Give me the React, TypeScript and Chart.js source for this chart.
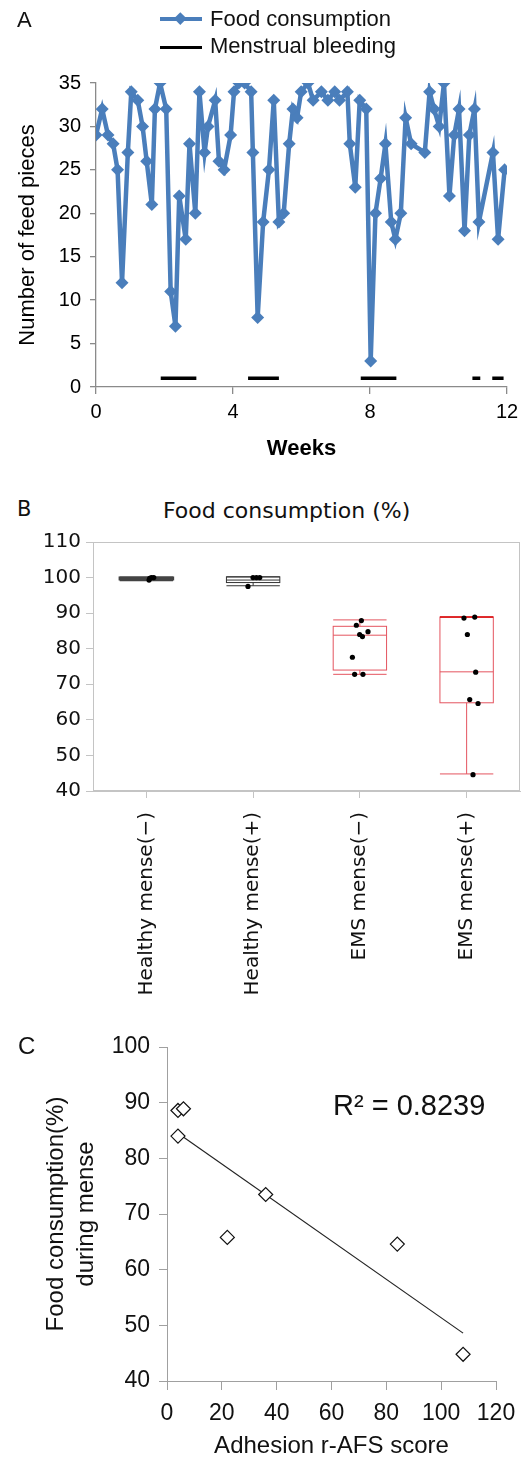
import React, { useEffect, useRef } from 'react';
import { Chart, registerables } from 'chart.js';

Chart.register(...registerables);

const SANS = '"Liberation Sans", Arial, sans-serif';
const VERD = '"DejaVu Sans", Verdana, sans-serif';
const BLUE = '#4A7EBB';
const RED = '#E4545F';

// ---------- Panel A : daily food consumption ----------
const WEEKS = [
  0.0, 0.18, 0.35, 0.5, 0.63, 0.76, 0.93, 1.03, 1.22, 1.36, 1.48, 1.63, 1.72, 1.87, 2.05, 2.18, 2.32, 2.43,
  2.62, 2.73, 2.9, 3.02, 3.17, 3.27, 3.48, 3.59, 3.74, 3.93, 4.03, 4.17, 4.34, 4.53, 4.58, 4.72, 4.88, 5.05,
  5.19, 5.34, 5.48, 5.64, 5.75, 5.87, 5.99, 6.19, 6.34, 6.58, 6.77, 6.97, 7.11, 7.34, 7.41, 7.57, 7.7, 7.89,
  8.02, 8.16, 8.31, 8.45, 8.62, 8.74, 8.9, 9.04, 9.2, 9.6, 9.74, 9.87, 10.02, 10.16, 10.32, 10.46, 10.6, 10.76,
  10.9, 11.05, 11.18, 11.59, 11.74, 11.93,
];
const FEED_PIECES = [
  29, 32, 29, 28, 25, 12, 27, 34, 33, 30, 26, 21, 32, 35, 32, 11, 7, 22,
  17, 28, 20, 34, 27, 30, 33, 26, 25, 29, 34, 35, 35, 34, 27, 8, 19, 25,
  33, 19, 20, 28, 32, 31, 34, 35, 33, 34, 33, 34, 33, 34, 28, 23, 33, 32,
  3, 20, 24, 28, 19, 17, 20, 31, 28, 27, 34, 32, 30, 35, 22, 29, 32, 18,
  29, 32, 19, 27, 17, 25,
];
const BLEED_START = [1.89, 4.44, 7.73, 10.99, 11.57];
const BLEED_END = [2.93, 5.34, 8.77, 11.22, 11.9];
const BLEED_LEVEL = 1;

// ---------- Panel B : box plots ----------
const GROUPS = ['Healthy mense(\u2212)', 'Healthy mense(+)', 'EMS mense(\u2212)', 'EMS mense(+)'];
const BOX_MIN = [99.3, 97.7, 72.8, 44.8];
const BOX_Q1 = [99.5, 98.6, 74.0, 64.8];
const BOX_MEDIAN = [99.8, 99.3, 83.8, 73.5];
const BOX_Q3 = [100.0, 100.2, 86.3, 88.9];
const BOX_MAX = [100.0, 100.2, 88.1, 88.9];
const DOT_POS = [
  0.025, 0.031, 0.047, 0.069,
  0.952, 0.999, 1.031, 1.062,
  2.014, 1.967, 2.076, 1.998, 2.024, 1.93, 1.951, 2.029,
  2.975, 3.076, 3.007, 3.085, 3.029, 3.107, 3.06,
];
const DOT_VALUE = [
  99.3, 99.8, 100, 100,
  97.5, 100, 100, 100,
  87.9, 86.6, 84.8, 84.0, 83.4, 77.6, 72.8, 72.8,
  88.6, 88.9, 84.0, 73.4, 65.7, 64.6, 44.6,
];

// ---------- Panel C : correlation ----------
const AFS_SCORE = [4, 6, 4, 36, 22, 84, 108];
const MENSE_FOOD = [88.6, 88.9, 84.0, 73.5, 65.8, 64.6, 44.8];
const TREND_X = [4, 108];
const TREND_Y = [84.5, 48.6];
const R2_TEXT = 'R\u00B2 = 0.8239';

// styles (not data)
const BOX_HALF = 0.25;
const BOX_STROKE = ['#444444', '#333333', RED, RED];
const BOX_WIDTH = [2.2, 1, 1, 1];
const CAP_STROKE = ['#444444', '#333333', RED, '#D80000'];
const FRAME = '#c4c4c4';
const AXIS_A = '#8a8a8a';
const AXIS_C = '#a0a0a0';

const boxPlugin = {
  id: 'boxes',
  beforeDatasetsDraw(chart: any) {
    const { ctx, chartArea, scales } = chart;
    const x = scales.x;
    const y = scales.y;
    ctx.save();
    ctx.strokeStyle = FRAME;
    ctx.lineWidth = 1;
    ctx.strokeRect(chartArea.left + 0.5, chartArea.top + 0.5, chartArea.right - chartArea.left - 1, chartArea.bottom - chartArea.top - 1);
    GROUPS.forEach((_, i) => {
      const cx = x.getPixelForValue(i);
      const l = x.getPixelForValue(i - BOX_HALF);
      const r = x.getPixelForValue(i + BOX_HALF);
      const yMin = y.getPixelForValue(BOX_MIN[i]);
      const yQ1 = y.getPixelForValue(BOX_Q1[i]);
      const yMed = y.getPixelForValue(BOX_MEDIAN[i]);
      const yQ3 = y.getPixelForValue(BOX_Q3[i]);
      const yMax = y.getPixelForValue(BOX_MAX[i]);
      ctx.strokeStyle = BOX_STROKE[i];
      ctx.lineWidth = BOX_WIDTH[i];
      ctx.beginPath();
      ctx.moveTo(cx, yQ1); ctx.lineTo(cx, yMin);
      ctx.moveTo(cx, yQ3); ctx.lineTo(cx, yMax);
      ctx.moveTo(l, yMin); ctx.lineTo(r, yMin);
      ctx.stroke();
      ctx.strokeRect(l, yQ3, r - l, yQ1 - yQ3);
      ctx.beginPath();
      ctx.moveTo(l, yMed); ctx.lineTo(r, yMed);
      ctx.stroke();
      ctx.strokeStyle = CAP_STROKE[i];
      ctx.lineWidth = i === 3 ? 1.6 : BOX_WIDTH[i];
      ctx.beginPath();
      ctx.moveTo(l, yMax); ctx.lineTo(r, yMax);
      ctx.stroke();
    });
    ctx.restore();
  },
};

function configA(): any {
  const bleed: any[] = [];
  BLEED_START.forEach((s, i) => {
    bleed.push({ x: s, y: BLEED_LEVEL }, { x: BLEED_END[i], y: BLEED_LEVEL }, { x: BLEED_END[i], y: null });
  });
  return {
    type: 'line',
    data: {
      datasets: [
        {
          label: 'Menstrual bleeding',
          data: bleed,
          borderColor: '#000',
          borderWidth: 3.5,
          pointRadius: 0,
          spanGaps: false,
        },
        {
          label: 'Food consumption',
          data: WEEKS.map((x, i) => ({ x, y: FEED_PIECES[i] })),
          borderColor: BLUE,
          backgroundColor: BLUE,
          borderWidth: 4.5,
          pointStyle: 'rectRot',
          pointRadius: 6.5,
          pointBorderWidth: 0,
          pointBackgroundColor: BLUE,
          tension: 0,
        },
      ],
    },
    options: {
      animation: false,
      responsive: false,
      layout: { padding: { top: 83, right: 19, left: 0, bottom: 0 } },
      plugins: { legend: { display: false }, tooltip: { enabled: false } },
      scales: {
        x: {
          type: 'linear',
          min: 0,
          max: 12,
          ticks: { stepSize: 4, font: { family: SANS, size: 20 }, color: '#000', padding: 6 },
          grid: { drawOnChartArea: false, tickLength: 7, color: AXIS_A, lineWidth: 1.3 },
          border: { color: AXIS_A, width: 1.3 },
          title: { display: true, text: 'Weeks', font: { family: SANS, size: 22, weight: 'bold' }, color: '#000', padding: { top: 0, bottom: 8 } },
          afterFit: (s: any) => { s.height = 83; },
        },
        y: {
          min: 0,
          max: 35,
          ticks: { stepSize: 5, font: { family: SANS, size: 20 }, color: '#000', padding: 9 },
          grid: { drawOnChartArea: false, tickLength: 6, color: AXIS_A, lineWidth: 1.3 },
          border: { color: AXIS_A, width: 1.3 },
          title: { display: true, text: 'Number of feed pieces', font: { family: SANS, size: 22 }, color: '#000', padding: { top: 15, bottom: 0 } },
          afterFit: (s: any) => { s.width = 96; },
        },
      },
    },
  };
}

function configB(): any {
  return {
    type: 'scatter',
    data: {
      datasets: [
        {
          data: DOT_POS.map((x, i) => ({ x, y: DOT_VALUE[i] })),
          pointRadius: 2.6,
          pointBackgroundColor: '#000',
          pointBorderWidth: 0,
        },
      ],
    },
    plugins: [boxPlugin],
    options: {
      animation: false,
      responsive: false,
      layout: { padding: { top: 10, right: 6, left: 0, bottom: 0 } },
      plugins: { legend: { display: false }, tooltip: { enabled: false } },
      scales: {
        x: {
          type: 'linear',
          min: -0.5,
          max: 3.5,
          afterBuildTicks: (s: any) => { s.ticks = GROUPS.map((_, i) => ({ value: i })); },
          ticks: {
            autoSkip: false,
            maxRotation: 90,
            minRotation: 90,
            callback: (v: any) => GROUPS[v] ?? '',
            font: { family: VERD, size: 20 },
            color: '#111',
            padding: 14,
          },
          grid: { drawOnChartArea: false, tickLength: 7, color: FRAME },
          border: { color: FRAME },
          afterFit: (s: any) => { s.height = 209; },
        },
        y: {
          min: 40,
          max: 110,
          ticks: { stepSize: 10, font: { family: VERD, size: 20 }, color: '#111', padding: 5 },
          grid: { drawOnChartArea: false, tickLength: 7, color: FRAME },
          border: { color: FRAME },
          afterFit: (s: any) => { s.width = 93; },
        },
      },
    },
  };
}

function configC(): any {
  return {
    type: 'scatter',
    data: {
      datasets: [
        {
          data: AFS_SCORE.map((x, i) => ({ x, y: MENSE_FOOD[i] })),
          pointStyle: 'rectRot',
          pointRadius: 7,
          pointBackgroundColor: '#fff',
          pointBorderColor: '#111',
          pointBorderWidth: 1.2,
          order: 0,
        },
        {
          data: TREND_X.map((x, i) => ({ x, y: TREND_Y[i] })),
          showLine: true,
          borderColor: '#222',
          borderWidth: 1.2,
          pointRadius: 0,
          order: 1,
        },
      ],
    },
    options: {
      animation: false,
      responsive: false,
      layout: { padding: { top: 45, right: 30, left: 0, bottom: 0 } },
      plugins: { legend: { display: false }, tooltip: { enabled: false } },
      scales: {
        x: {
          min: 0,
          max: 120,
          ticks: { stepSize: 20, font: { family: SANS, size: 23 }, color: '#111', padding: 10 },
          grid: { drawOnChartArea: false, tickLength: 9, color: AXIS_C },
          border: { color: AXIS_C },
          title: { display: true, text: 'Adhesion r-AFS score', font: { family: SANS, size: 24 }, color: '#111', padding: { top: 0, bottom: 0 } },
          afterFit: (s: any) => { s.height = 80; },
        },
        y: {
          min: 40,
          max: 100,
          ticks: { stepSize: 10, font: { family: SANS, size: 23 }, color: '#111', padding: 9 },
          grid: { drawOnChartArea: false, tickLength: 8, color: AXIS_C },
          border: { color: AXIS_C },
          title: {
            display: true,
            text: ['Food consumption(%)', 'during mense'],
            font: { family: SANS, size: 24, lineHeight: 1.25 },
            color: '#111',
            padding: { top: 41, bottom: 0 },
          },
          afterFit: (s: any) => { s.width = 167; },
        },
      },
    },
  };
}

function ChartCanvas({ make, top, height }: { make: () => any; top: number; height: number }) {
  const ref = useRef<HTMLCanvasElement | null>(null);
  useEffect(() => {
    const chart = new Chart(ref.current as HTMLCanvasElement, make());
    return () => chart.destroy();
  }, []);
  return (
    <canvas
      ref={ref}
      width={526}
      height={height}
      style={{ position: 'absolute', left: 0, top, width: 526, height }}
    />
  );
}

function Label({ x, cy, size, family, weight, children }: any) {
  return (
    <div
      style={{
        position: 'absolute',
        left: x,
        top: cy - 0.49 * size,
        fontSize: size,
        fontFamily: family,
        fontWeight: weight || 'normal',
        lineHeight: 1,
        whiteSpace: 'nowrap',
        color: '#111',
      }}
    >
      {children}
    </div>
  );
}

export default function App() {
  return (
    <div style={{ position: 'absolute', left: 0, top: 0, width: 526, height: 1461, background: '#fff', overflow: 'hidden' }}>
      <ChartCanvas make={configA} top={0} height={470} />
      <ChartCanvas make={configB} top={525} height={475} />
      <ChartCanvas make={configC} top={1002} height={459} />

      <Label x={17} cy={19.5} size={22} family={SANS}>A</Label>
      <div style={{ position: 'absolute', left: 160, top: 16.7, width: 42, height: 4, background: BLUE }} />
      <div style={{ position: 'absolute', left: 176, top: 14.4, width: 8.6, height: 8.6, background: BLUE, transform: 'rotate(45deg)' }} />
      <Label x={210} cy={19} size={22} family={SANS}>Food consumption</Label>
      <div style={{ position: 'absolute', left: 160, top: 46.2, width: 42, height: 3, background: '#000' }} />
      <Label x={210} cy={45.5} size={22} family={SANS}>Menstrual bleeding</Label>

      <Label x={17} cy={509} size={21} family={VERD}>B</Label>
      <Label x={163} cy={510.5} size={22} family={VERD}>Food consumption (%)</Label>

      <Label x={18} cy={1046} size={24} family={SANS}>C</Label>
      <Label x={333} cy={1105.5} size={29} family={SANS}>{R2_TEXT}</Label>
    </div>
  );
}
